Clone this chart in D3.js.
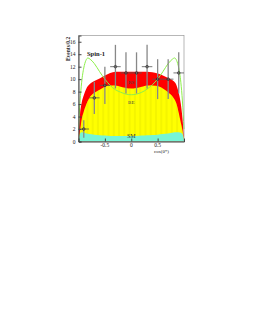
<html>
<meta http-equiv="content-type" content="text/html; charset=UTF8">
<style>
  body {margin:0; background:#fff;}
  text {font-family:"Liberation Serif", "DejaVu Serif", serif;}
</style>
<body>
<svg id="svg1" width="253" height="327"></svg>
<script src="https://cdn.jsdelivr.net/npm/d3@7/dist/d3.min.js"></script>
<script>
// curve samples along cos(theta*)
var cosx   = [-1,-0.97,-0.94,-0.9,-0.85,-0.8,-0.7,-0.6,-0.5,-0.4,-0.3,-0.2,-0.1,0,0.1,0.2,0.3,0.4,0.5,0.6,0.7,0.8,0.85,0.9,0.94,0.97,1];
var smTop  = [0.3,1.3,1.5,1.4,1.3,1.2,1.1,1.0,0.95,0.9,0.9,0.9,0.9,0.9,0.9,0.95,1.0,1.05,1.1,1.2,1.3,1.45,1.5,1.5,1.4,1.2,0.3];
var yelTop = [0.3,1.8,3.5,4.8,6.0,6.9,7.8,8.3,8.8,9.0,9.0,8.8,8.6,8.5,8.6,8.8,9.0,9.0,8.9,8.5,7.9,7.0,6.2,4.6,3.0,1.8,0.3];
var redTop = [0.5,4.5,6.2,7.4,8.5,9.1,9.7,10.1,10.6,11.0,11.2,11.2,11.2,11.2,11.2,11.2,11.2,11.1,10.9,10.6,10.2,9.7,9.2,7.8,6.0,3.8,0.5];
var spinX  = [-1,-0.97,-0.94,-0.9,-0.86,-0.82,-0.78,-0.7,-0.6,-0.5,-0.4,-0.3,-0.2,-0.1,0,0.1,0.2,0.3,0.4,0.5,0.6,0.7,0.78,0.82,0.86,0.9,0.94,0.97,1];
var spin1  = [2.0,6.5,9.5,11.8,13.0,13.4,13.2,12.5,11.2,10.0,9.0,8.3,7.9,7.6,7.5,7.6,7.9,8.4,9.1,10.0,11.2,12.5,13.2,13.4,13.0,11.8,9.5,6.5,2.0];

// data points, bins of 0.2
var dataX   = [-0.9,-0.7,-0.5,-0.3,-0.1,0.1,0.3,0.5,0.7,0.9];
var dataY   = [2,7,9,12,11,11,12,10,10,11];
var dataErr = [1.4,2.6,3.0,3.5,3.3,3.3,3.5,3.2,3.2,3.3];

var xTicks = [-0.5,0,0.5];
var yTicks = [0,2,4,6,8,10,12,14,16];

var svg = d3.select("#svg1");
var x = d3.scaleLinear().domain([-1,1]).range([78.5,184]);
var y = d3.scaleLinear().domain([0,17]).range([141.5,35.5]);

var pts=function(tops){ return cosx.map(function(c,i){return [c,tops[i]]}) };
var area = d3.area().x(function(d){return x(d[0])}).y0(y(0)).y1(function(d){return y(d[1])}).curve(d3.curveMonotoneX);

svg.append("path").attr("d",area(pts(redTop))).attr("fill","#ff0000");
svg.append("clipPath").attr("id","yclip").append("path").attr("d",area(pts(yelTop)));
svg.append("path").attr("d",area(pts(yelTop))).attr("fill","#ffff00");
// faint vertical stripes in the yellow fill
var stripes = d3.range(-0.95,1,0.1);
svg.append("g").attr("clip-path","url(#yclip)").selectAll("rect").data(stripes).enter().append("rect")
    .attr("x",function(d){return x(d)})
    .attr("y",y(17))
    .attr("width",2)
    .attr("height",y(0)-y(17))
    .attr("fill","#e6e600").attr("opacity",0.4);
svg.append("path").attr("d",area(pts(smTop))).attr("fill","#77f5d5");

// spin-1 curve
var line = d3.line().x(function(d){return x(d[0])}).y(function(d){return y(d[1])}).curve(d3.curveMonotoneX);
svg.append("path").attr("d",line(spinX.map(function(c,i){return [c,spin1[i]]})))
    .attr("fill","none").attr("stroke","#8ef04a").attr("stroke-width",1);

// frame
svg.append("rect").attr("x",x(-1)).attr("y",y(17)).attr("width",x(1)-x(-1)).attr("height",y(0)-y(17))
    .attr("fill","none").attr("stroke","#999").attr("stroke-width",0.7);

// axes with inside ticks
var yAxis = d3.axisRight(y).tickValues(yTicks).tickSize(3).tickFormat("");
var ga = svg.append("g").attr("transform","translate("+x(-1)+",0)").call(yAxis);
ga.select(".domain").attr("stroke","#444");
ga.selectAll("line").attr("stroke","#444");
svg.append("g").selectAll("text").data(yTicks).enter().append("text")
    .attr("x",x(-1)-3).attr("y",function(d){return y(d)+2})
    .attr("text-anchor","end").attr("font-size",5.5).attr("fill","#222")
    .text(function(d){return d});

var xAxis = d3.axisTop(x).tickValues(xTicks).tickSize(3).tickFormat("");
var gx = svg.append("g").attr("transform","translate(0,"+y(0)+")").call(xAxis);
gx.select(".domain").attr("stroke","#444");
gx.selectAll("line").attr("stroke","#444");
svg.append("g").selectAll("text").data(xTicks).enter().append("text")
    .attr("x",function(d){return x(d)}).attr("y",y(0)+5)
    .attr("text-anchor","middle").attr("font-size",5.5).attr("fill","#222")
    .text(function(d){return d});

svg.append("text").attr("x",169).attr("y",152.5).attr("text-anchor","end")
    .attr("font-size",5).attr("fill","#222").text("cos(θ*)");
svg.append("text").attr("transform","translate(70,"+y(16.8)+") rotate(-90)")
    .attr("text-anchor","end").attr("font-size",5.5).attr("font-weight","bold").attr("fill","#222")
    .text("Events/0.2");

// data with error bars
var g = svg.append("g").selectAll("g").data(dataX).enter().append("g");
g.append("line")
    .attr("x1",function(d){return x(d)}).attr("x2",function(d){return x(d)})
    .attr("y1",function(d,i){return y(dataY[i]+dataErr[i])})
    .attr("y2",function(d,i){return y(dataY[i]-dataErr[i])})
    .attr("stroke","#888").attr("stroke-width",1.3);
g.append("line")
    .attr("x1",function(d){return x(d-0.1)}).attr("x2",function(d){return x(d+0.1)})
    .attr("y1",function(d,i){return y(dataY[i])}).attr("y2",function(d,i){return y(dataY[i])})
    .attr("stroke","#555").attr("stroke-width",0.8);
g.append("circle")
    .attr("cx",function(d){return x(d)}).attr("cy",function(d,i){return y(dataY[i])})
    .attr("r",1.3).attr("fill","none").attr("stroke","#222").attr("stroke-width",0.7);

// labels
svg.append("text").attr("x",87).attr("y",56).attr("font-size",6.5).attr("font-weight","bold").attr("fill","#222").text("Spin-1");
svg.append("text").attr("x",x(0)).attr("y",y(9.3)).attr("text-anchor","middle").attr("font-size",5).attr("fill","#444").text("RS");
svg.append("text").attr("x",x(0)).attr("y",y(6)).attr("text-anchor","middle").attr("font-size",5).attr("fill","#444").text("BE");
svg.append("text").attr("x",x(0)).attr("y",y(0.6)).attr("text-anchor","middle").attr("font-size",6).attr("fill","#333").text("SM");
</script>
</body>
</html>
